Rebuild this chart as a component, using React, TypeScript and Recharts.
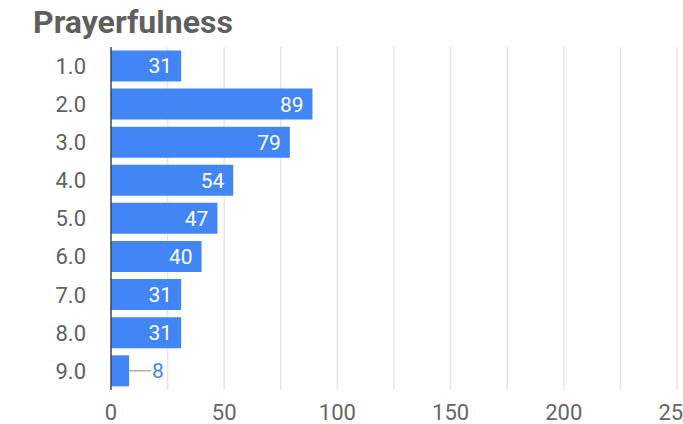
import React from 'react';
import { BarChart, Bar, XAxis, YAxis, CartesianGrid, LabelList } from 'recharts';

const categories = ['1.0', '2.0', '3.0', '4.0', '5.0', '6.0', '7.0', '8.0', '9.0'];
const counts = [31, 89, 79, 54, 47, 40, 31, 31, 8];
const xTicks = [0, 50, 100, 150, 200, 250];
const gridValues = [25, 50, 75, 100, 125, 150, 175, 200, 225, 250];

const data = categories.map((c, i) => ({ name: c, value: counts[i] }));

const BLUE = '#4285F4';
const FONT = 'Roboto, "Noto Sans", sans-serif';

function ValueLabel(props: any) {
  const { x, y, width, height, value } = props;
  const txt = String(value);
  const textW = txt.length * 12;
  const cy = y + height / 2;
  if (width > textW + 16) {
    return (
      <text x={x + width - 9} y={cy} dy="0.36em" textAnchor="end" fill="#fff"
        fontSize={21} fontFamily={FONT}>
        {txt}
      </text>
    );
  }
  const end = x + width;
  return (
    <g>
      <line x1={end} y1={cy} x2={end + 22} y2={cy} stroke="#888" strokeWidth={1} />
      <text x={end + 23} y={cy} dy="0.36em" textAnchor="start" fill={BLUE}
        fontSize={21} fontFamily={FONT}>
        {txt}
      </text>
    </g>
  );
}

export default function App() {
  return (
    <div style={{ position: 'absolute', left: 0, top: 0, width: 683, height: 424, background: '#fff' }}>
      <div style={{
        position: 'absolute', left: 33, top: 3, fontFamily: FONT, fontWeight: 700,
        fontSize: 32, color: '#5f5f5f', lineHeight: '38px'
      }}>
        Prayerfulness
      </div>
      <BarChart
        width={683}
        height={424}
        data={data}
        layout="vertical"
        margin={{ top: 47, right: 6, bottom: 0, left: 0 }}
        barCategoryGap="9%"
      >
        <CartesianGrid horizontal={false} verticalValues={gridValues} stroke="#e6e6e6" strokeWidth={1.5} />
        <XAxis
          type="number"
          domain={[0, 250]}
          ticks={xTicks}
          height={34}
          axisLine={false}
          tickLine={false}
          tickSize={0}
          tickMargin={14}
          interval={0}
          tick={{ fill: '#666', fontSize: 22, fontFamily: FONT }}
        />
        <YAxis
          type="category"
          dataKey="name"
          width={111}
          axisLine={{ stroke: '#444', strokeWidth: 1.5 }}
          tickLine={false}
          tickSize={0}
          tickMargin={25}
          interval={0}
          tick={{ fill: '#616161', fontSize: 22, fontFamily: FONT }}
        />
        <Bar dataKey="value" fill={BLUE} isAnimationActive={false}>
          <LabelList dataKey="value" content={ValueLabel} />
        </Bar>
      </BarChart>
    </div>
  );
}
